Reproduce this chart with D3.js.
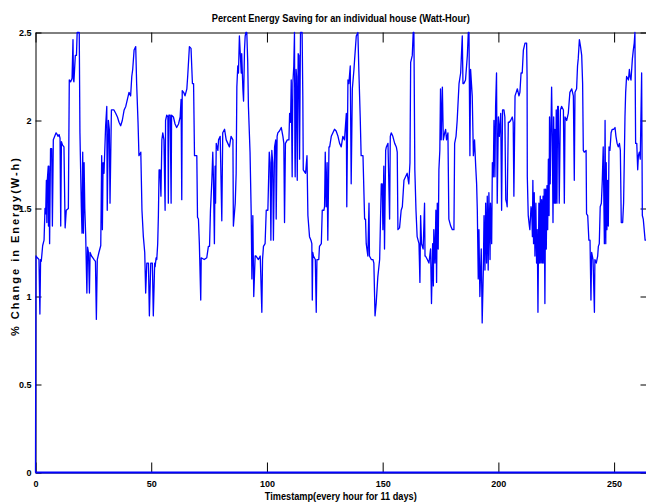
<!DOCTYPE html>
<html>
<head>
<meta charset="utf-8">
<script src="https://cdn.jsdelivr.net/npm/d3@7"></script>
<style>
  body { margin: 0; background: #fff; }
  svg { display: block; }
  text { font-family: "Liberation Sans Narrow", "Liberation Sans", Arial, sans-serif; font-weight: bold; }
</style>
</head>
<body>
<script>
const width = 646;
const height = 504;

const title = "Percent Energy Saving for an individual house (Watt-Hour)";
const xLabel = "Timestamp(every hour for 11 days)";
const yLabel = "% Change in Energy(W-h)";
const xTicks = [0, 50, 100, 150, 200, 250];
const yTicks = [0, 0.5, 1, 1.5, 2, 2.5];

// [hour, % saving], one array per day
const day1 = [[0,0],[0.2,1.23],[0.8,1.22],[1.5,1.21],[1.9,0.90],[2.2,1.21],[2.5,1.20],[3.1,1.29],[3.7,1.32],[4.1,1.50],[4.4,1.47],[4.7,1.66],[4.9,1.42],[5.1,1.66],[5.5,1.74],[5.6,1.40],[5.8,1.74],[6.1,1.30],[6.5,1.84],[7.0,1.84],[7.3,1.40],[7.7,1.89],[8.3,1.91],[8.9,1.93],[9.4,1.92],[9.7,1.91],[10.2,1.92],[10.6,1.90],[10.9,1.40],[11.2,1.88],[11.7,1.86],[12.3,1.85],[12.8,1.39],[13.3,1.49],[14.2,1.50],[14.6,2.23],[15.2,2.22],[15.8,2.24],[16.2,2.46],[16.4,2.23],[16.6,2.22],[17.2,2.37],[17.7,2.37],[18.0,2.50],[18.9,2.50],[19.2,1.93],[19.5,1.72],[19.8,1.51],[20.1,1.36],[20.4,1.82],[20.7,1.36],[21.0,1.76],[21.3,1.50],[21.7,1.34],[22.2,1.02],[22.5,1.28],[22.9,1.25],[23.3,1.02],[23.6,1.25]];
const day2 = [[24.2,1.23],[24.8,1.22],[25.3,1.21],[25.9,1.20],[26.3,0.87],[26.7,1.21],[27.4,1.25],[28.2,1.29],[28.6,1.80],[28.9,1.38],[29.2,1.76],[29.6,1.70],[30.3,1.97],[30.8,2.08],[31.0,1.49],[31.5,2.00],[31.9,1.95],[32.2,1.53],[32.8,2.06],[33.9,2.06],[34.7,2.04],[35.4,2.02],[36.1,1.99],[36.8,1.97],[37.5,2.00],[38.3,2.06],[39.0,2.08],[39.7,2.12],[40.4,2.16],[41.1,2.14],[41.6,2.25],[42.0,2.29],[42.6,2.40],[43.3,2.42],[43.7,2.21],[44.3,1.99],[44.7,1.80],[45.5,1.82],[46.0,1.49],[46.6,1.34],[47.2,1.25],[47.6,1.02]];
const day3 = [[48.1,1.19],[48.8,1.19],[49.2,0.89],[49.8,1.19],[50.5,1.19],[50.9,0.89],[51.5,1.19],[51.7,1.17],[52.1,1.22],[52.4,1.21],[52.8,1.30],[53.1,1.46],[53.4,1.72],[53.8,1.72],[54.2,1.57],[54.6,1.89],[55.0,1.93],[55.5,1.89],[56.0,1.49],[56.2,2.00],[56.7,2.03],[57.2,2.02],[57.4,1.53],[57.6,2.03],[58.2,2.03],[58.6,1.53],[58.8,2.03],[59.6,2.02],[60.3,1.98],[61.0,1.96],[61.8,1.98],[62.5,2.02],[62.9,2.12],[63.2,1.55],[63.4,2.17],[64.0,2.16],[64.6,2.14],[65.4,2.18],[65.8,2.26],[66.5,2.42],[67.2,2.41],[67.8,2.21],[68.3,2.21],[68.7,1.80],[69.7,1.80],[70.0,1.45],[70.4,1.44],[70.8,1.30],[71.4,0.98],[71.6,1.22]];
const day4 = [[72.9,1.21],[74.0,1.22],[74.7,1.285],[75.2,1.285],[75.6,1.49],[76.2,1.66],[76.6,1.82],[76.9,1.66],[77.3,1.30],[77.6,1.74],[77.8,1.53],[78.1,1.87],[78.8,1.83],[79.1,1.89],[79.8,1.91],[80.5,1.43],[80.9,1.93],[81.7,1.95],[82.4,1.89],[83.1,1.87],[83.8,1.85],[84.5,1.91],[85.3,1.89],[85.5,1.40],[86.3,1.53],[86.7,1.70],[87.0,2.19],[87.4,2.31],[87.7,2.27],[88.1,2.48],[88.4,2.40],[88.9,2.27],[89.1,2.38],[89.6,2.18],[89.9,2.11],[90.3,2.40],[90.6,2.48],[90.9,2.50],[91.3,2.50],[91.7,2.33],[92.0,2.08],[92.7,1.82],[93.2,1.47],[93.5,1.10],[93.9,1.46],[94.3,1.00],[94.9,1.23],[95.3,1.23]];
const day5 = [[96.3,1.21],[97.1,1.23],[97.8,0.91],[98.1,1.21],[98.5,1.285],[99.2,1.30],[99.7,1.49],[100.4,1.49],[101.0,1.82],[101.4,1.76],[101.7,1.32],[102.1,1.83],[102.5,1.76],[102.8,1.32],[103.3,1.85],[103.8,1.89],[104.0,1.44],[104.4,1.91],[104.7,1.93],[105.4,1.94],[106.2,1.96],[106.9,1.91],[107.3,1.87],[107.6,1.42],[108.0,1.87],[108.8,1.89],[109.5,1.89],[109.8,2.04],[110.2,1.99],[110.5,2.23],[110.9,1.68],[111.2,2.21],[111.6,2.31],[111.9,2.50],[112.1,1.80],[112.2,1.68],[112.6,2.29],[112.8,2.25],[113.1,1.66],[113.5,2.38],[113.8,2.37],[114.1,1.78],[114.5,2.50],[115.2,2.50],[115.5,2.14],[115.7,1.72],[116.7,1.70],[117.3,1.80],[117.7,1.46],[118.4,1.34],[119.0,1.32],[119.4,1.30],[119.6,0.98],[119.8,1.25]];
const day6 = [[120.1,1.23],[120.9,1.21],[121.3,0.91],[121.6,1.21],[122.4,1.21],[122.7,1.285],[123.5,1.30],[123.9,1.49],[124.6,1.49],[124.9,1.51],[125.2,1.82],[125.6,1.51],[126.0,1.76],[126.3,1.32],[126.8,1.85],[127.1,1.85],[127.8,1.91],[128.5,1.93],[129.2,1.95],[129.9,1.94],[130.7,1.91],[131.4,1.87],[132.1,1.85],[132.8,1.91],[133.5,1.89],[134.3,2.04],[134.5,1.51],[135.0,2.23],[135.4,2.21],[136.0,2.31],[136.4,1.64],[136.9,2.18],[137.6,2.29],[137.9,2.35],[138.6,2.48],[139.3,2.50],[139.7,2.29],[140.3,2.02],[140.7,1.80],[141.5,1.80],[142.2,1.44],[142.6,1.44],[142.9,1.30],[143.6,1.23],[144.1,1.53],[144.3,1.23]];
const day7 = [[145.1,1.21],[145.8,1.21],[146.2,1.19],[146.7,0.89],[147.2,0.96],[147.9,1.11],[148.7,1.21],[149.4,1.64],[149.8,1.64],[150.1,1.38],[150.5,1.74],[150.8,1.27],[151.3,1.83],[151.6,1.85],[152.3,1.87],[153.0,1.44],[153.3,1.91],[153.7,1.93],[154.4,1.91],[155.2,1.87],[155.9,1.85],[156.3,1.82],[156.6,1.38],[157.3,1.39],[158.0,1.49],[158.5,1.51],[159.2,1.66],[159.9,1.68],[160.6,1.70],[161.3,1.64],[161.8,1.76],[162.1,2.33],[162.8,2.37],[163.2,2.50],[163.5,2.50],[163.9,1.72],[164.4,1.49],[164.9,1.34],[165.7,1.30],[166.1,1.08],[166.4,1.46],[166.8,1.30],[167.5,1.27],[168.1,1.53],[168.3,1.23]];
const day8 = [[168.5,1.23],[169.3,1.21],[170.0,1.19],[170.7,1.27],[171.1,0.96],[171.6,1.30],[171.9,1.06],[172.1,1.38],[172.6,1.19],[173.0,1.49],[173.3,1.08],[173.6,1.53],[174.0,1.27],[174.3,1.72],[174.7,1.83],[175.0,2.18],[175.3,1.89],[175.8,2.19],[176.2,1.89],[176.8,1.93],[177.2,1.95],[177.6,1.89],[178.2,1.93],[178.6,1.44],[179.4,1.40],[180.1,1.38],[180.8,1.38],[181.1,1.87],[181.7,1.91],[182.2,2.00],[183.0,2.21],[183.7,2.27],[184.4,2.48],[184.7,2.21],[185.1,2.21],[185.8,2.23],[186.6,2.37],[187.0,2.50],[187.3,2.50],[187.7,1.80],[188.0,2.29],[188.7,2.14],[189.2,1.80],[189.7,1.89],[190.2,1.74],[190.6,1.64],[190.9,1.49],[191.3,1.10],[191.6,1.38]];
const day9 = [[192.0,1.00],[192.6,1.27],[193.0,0.85],[193.5,1.15],[193.8,1.46],[194.2,1.15],[194.5,1.53],[194.9,1.19],[195.2,1.57],[195.6,1.15],[195.9,1.59],[196.4,1.21],[196.6,1.53],[197.1,1.30],[197.4,1.76],[197.8,1.68],[198.1,2.00],[198.5,1.68],[198.8,2.08],[199.2,2.27],[199.5,1.53],[200.0,2.02],[200.4,1.91],[201.0,2.04],[201.4,1.49],[201.8,2.06],[202.4,2.06],[202.8,2.02],[203.2,1.55],[203.6,1.53],[203.8,1.51],[204.3,1.99],[204.7,1.99],[205.3,2.00],[206.0,2.02],[206.4,1.99],[206.7,1.57],[207.2,2.14],[207.7,2.16],[208.2,2.18],[208.9,2.14],[209.3,2.16],[209.8,2.27],[210.3,2.27],[210.8,2.40],[211.5,2.44],[212.2,2.44],[212.4,2.25],[212.5,1.68],[212.9,1.46],[213.4,1.40],[213.6,1.38],[214.1,1.51],[214.4,1.49],[214.7,1.34],[214.9,1.66],[215.2,1.30],[215.5,1.59]];
const day10 = [[215.8,1.23],[216.2,1.53],[216.5,1.19],[216.8,1.38],[217.1,0.91],[217.5,1.53],[217.8,1.19],[218.1,1.57],[218.4,1.19],[218.7,1.55],[219.0,1.19],[219.3,1.57],[219.6,1.19],[219.8,1.61],[220.1,0.96],[220.4,1.61],[220.7,1.27],[221.0,1.63],[221.3,1.38],[221.6,1.78],[221.9,1.46],[222.1,2.02],[222.4,1.64],[222.7,1.93],[223.0,2.19],[223.3,1.91],[223.6,1.42],[223.9,2.02],[224.2,1.53],[224.4,1.95],[224.7,1.53],[225.0,2.06],[225.3,1.53],[225.6,2.08],[225.9,2.08],[226.3,1.53],[226.8,2.06],[227.3,2.08],[228.1,2.06],[228.5,1.53],[228.8,2.02],[229.5,2.00],[230.2,2.04],[230.9,2.16],[231.7,2.18],[232.4,2.14],[232.8,1.66],[233.1,2.16],[233.8,2.18],[234.2,2.31],[234.5,2.35],[235.0,2.46],[235.5,2.42],[236.0,2.37],[236.4,2.21],[236.7,1.83],[237.1,1.82],[237.9,1.83],[238.1,1.47],[238.6,1.46],[239.1,1.32],[239.6,1.32]];
const day11 = [[240.0,0.98],[240.3,1.25],[240.9,1.21],[241.5,0.91],[241.7,1.21],[242.3,1.19],[242.9,1.23],[243.2,1.285],[243.6,1.30],[244.0,1.51],[244.5,1.53],[244.9,1.66],[245.3,1.85],[245.8,1.30],[246.1,2.00],[246.4,1.30],[246.6,1.76],[246.9,1.38],[247.2,1.66],[247.5,1.40],[247.8,1.85],[248.2,1.83],[248.7,1.93],[249.2,1.95],[249.8,1.95],[250.4,1.96],[250.8,1.91],[251.3,1.87],[251.8,1.85],[252.3,1.87],[252.7,1.83],[253.1,1.42],[253.7,1.42],[254.1,1.53],[254.7,2.02],[255.0,2.16],[255.4,2.25],[256.2,2.23],[256.6,2.29],[256.9,2.25],[257.3,2.23],[257.9,2.35],[258.3,2.40],[258.7,2.44],[259.0,2.50],[259.3,1.87],[259.8,1.87],[260.2,1.72],[260.5,1.80],[260.9,1.82],[261.3,1.78],[261.9,2.27],[262.2,1.46],[262.6,1.44],[263.4,1.32],[264.0,1.32]];

// second trace sitting on zero
const zeroTrace = [[0, 0], [264, 0]];

const saving = day1.concat(day2, day3, day4, day5, day6, day7, day8, day9, day10, day11);

const svg = d3.select("body")
  .append("svg")
  .attr("width", width)
  .attr("height", height);

svg.append("rect")
  .attr("width", width)
  .attr("height", height)
  .attr("fill", "#fff");

const x = d3.scaleLinear().domain([0, 264]).range([35.5, 646.5]);
const y = d3.scaleLinear().domain([0, 2.5]).range([472.5, 32.5]);

const [x0, x1] = x.range();
const [yb, yt] = y.range();

// axes, MATLAB style with ticks pointing in
const axBottom = svg.append("g")
  .attr("transform", `translate(0,${yb})`)
  .call(d3.axisBottom(x).tickValues(xTicks).tickSize(-10).tickSizeOuter(0).tickPadding(8).tickFormat(d3.format("d")));

const axTop = svg.append("g")
  .attr("transform", `translate(0,${yt})`)
  .call(d3.axisTop(x).tickValues(xTicks).tickSize(-10).tickSizeOuter(0).tickFormat(""));

const axLeft = svg.append("g")
  .attr("transform", `translate(${x0},0)`)
  .call(d3.axisLeft(y).tickValues(yTicks).tickSize(-6).tickSizeOuter(0).tickPadding(4).tickFormat(d => d));

const axRight = svg.append("g")
  .attr("transform", `translate(${x1},0)`)
  .call(d3.axisRight(y).tickValues(yTicks).tickSize(-6).tickSizeOuter(0).tickFormat(""));

[axBottom, axTop, axLeft, axRight].forEach(g => {
  g.selectAll("path, line").attr("stroke", "#000").attr("stroke-width", 1);
  g.selectAll("text")
    .attr("fill", "#000")
    .style("font-size", "9px");
});

const line = d3.line()
  .x(d => x(d[0]))
  .y(d => y(d[1]));

svg.append("path")
  .datum(zeroTrace)
  .attr("fill", "none")
  .attr("stroke", "#0000ff")
  .attr("stroke-width", 2)
  .attr("d", line);

svg.append("path")
  .datum(saving)
  .attr("fill", "none")
  .attr("stroke", "#0000ff")
  .attr("stroke-width", 1.3)
  .attr("stroke-linejoin", "round")
  .attr("d", line);

svg.append("text")
  .attr("x", (x0 + 646) / 2)
  .attr("y", 22)
  .attr("text-anchor", "middle")
  .attr("textLength", 258)
  .attr("lengthAdjust", "spacingAndGlyphs")
  .style("font-size", "11px")
  .text(title);

svg.append("text")
  .attr("x", (x0 + 646) / 2)
  .attr("y", 500)
  .attr("text-anchor", "middle")
  .attr("textLength", 152)
  .attr("lengthAdjust", "spacingAndGlyphs")
  .style("font-size", "11px")
  .text(xLabel);

svg.append("text")
  .attr("transform", `translate(19,247) rotate(-90)`)
  .attr("text-anchor", "middle")
  .attr("textLength", 178)
  .attr("lengthAdjust", "spacing")
  .style("font-size", "11px")
  .text(yLabel);
</script>
</body>
</html>
